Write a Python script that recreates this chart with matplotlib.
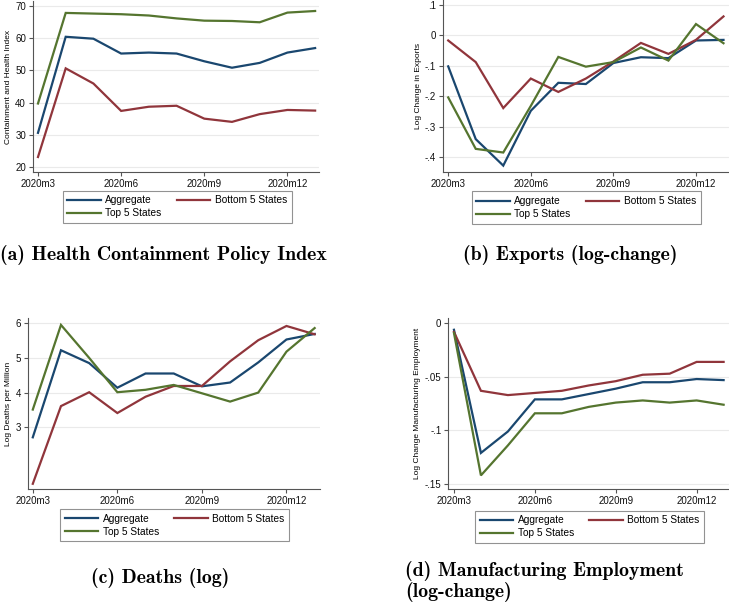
import numpy as np
import matplotlib
matplotlib.use('Agg')
import matplotlib.pyplot as plt

plt.rcParams['font.family'] = ['Liberation Sans', 'DejaVu Sans']

months = ['2020m3', '2020m4', '2020m5', '2020m6', '2020m7', '2020m8',
          '2020m9', '2020m10', '2020m11', '2020m12', '2021m1']
series_names = ['Aggregate', 'Bottom 5 States', 'Top 5 States']

# (a) containment and health index
health_agg = [30.6, 60.4, 59.8, 55.2, 55.5, 55.2, 52.8, 50.8, 52.3, 55.5, 56.9]
health_bot = [23.1, 50.6, 45.9, 37.4, 38.7, 39.0, 35.0, 34.0, 36.4, 37.7, 37.5]
health_top = [39.7, 67.8, 67.6, 67.4, 67.0, 66.1, 65.4, 65.3, 64.9, 67.9, 68.4]

# (b) log change in exports
exp_agg = [-0.102, -0.341, -0.428, -0.248, -0.156, -0.160, -0.091, -0.072, -0.075, -0.017, -0.015]
exp_bot = [-0.017, -0.088, -0.239, -0.142, -0.186, -0.142, -0.086, -0.025, -0.061, -0.015, 0.062]
exp_top = [-0.204, -0.373, -0.385, -0.232, -0.071, -0.103, -0.088, -0.040, -0.083, 0.037, -0.026]

# (c) log deaths per million
death_agg = [2.71, 5.22, 4.85, 4.14, 4.55, 4.55, 4.18, 4.29, 4.87, 5.53, 5.69]
death_bot = [1.37, 3.61, 4.01, 3.41, 3.88, 4.19, 4.19, 4.90, 5.51, 5.92, 5.68]
death_top = [3.51, 5.95, 5.00, 4.01, 4.08, 4.22, 3.98, 3.74, 4.00, 5.18, 5.86]

# (d) log change manufacturing employment
emp_agg = [-0.006, -0.121, -0.101, -0.071, -0.071, -0.066, -0.061, -0.055, -0.055, -0.052, -0.053]
emp_bot = [-0.008, -0.063, -0.067, -0.065, -0.063, -0.058, -0.054, -0.048, -0.047, -0.036, -0.036]
emp_top = [-0.009, -0.142, -0.114, -0.084, -0.084, -0.078, -0.074, -0.072, -0.074, -0.072, -0.076]

yticks_a = [20, 30, 40, 50, 60, 70]
ylabels_a = ['20', '30', '40', '50', '60', '70']
yticks_b = [-0.4, -0.3, -0.2, -0.1, 0, 0.1]
ylabels_b = ['-.4', '-.3', '-.2', '-.1', '0', '.1']
yticks_c = [3, 4, 5, 6]
ylabels_c = ['3', '4', '5', '6']
yticks_d = [-0.15, -0.1, -0.05, 0]
ylabels_d = ['-.15', '-.1', '-.05', '0']

colors = ['#1a476f', '#90353b', '#55752f']

W, H = 729, 603
fig = plt.figure(figsize=(W / 100, H / 100), dpi=100)
fig.patch.set_facecolor('white')

x = np.arange(len(months))


def make_panel(box, xlim, ylim, ys, yticks, ylabels, ylab, labx, leg_pos):
    l, r, t, b = box
    ax = fig.add_axes([l / W, 1 - b / H, (r - l) / W, (b - t) / H])
    lines = []
    for vals, c in zip(ys, colors):
        ln, = ax.plot(x, vals, color=c, lw=1.6, solid_joinstyle='miter')
        lines.append(ln)
    ax.set_xlim(*xlim)
    ax.set_ylim(*ylim)
    ax.set_xticks(x[::3])
    ax.set_xticklabels(months[::3], fontsize=7)
    ax.set_yticks(yticks)
    ax.set_yticklabels(ylabels, fontsize=7)
    ax.grid(axis='y', color='#eaeaea', lw=0.8)
    ax.set_axisbelow(True)
    for s in ['top', 'right']:
        ax.spines[s].set_visible(False)
    for s in ['left', 'bottom']:
        ax.spines[s].set_color('#555555')
        ax.spines[s].set_linewidth(0.8)
    ax.tick_params(length=3, width=0.8, color='#555555', pad=2, labelcolor='#111111')
    ax.set_ylabel(ylab, fontsize=6)
    ax.yaxis.set_label_coords(labx, 0.5)
    # legend order so that ncol=2 gives Aggregate | Bottom / Top
    order = [0, 2, 1]
    leg = fig.legend([lines[i] for i in order], [series_names[i] for i in order],
                     ncol=2, loc='upper left',
                     bbox_to_anchor=(leg_pos[0] / W, 1 - leg_pos[1] / H),
                     bbox_transform=fig.transFigure, borderaxespad=0,
                     fontsize=7.3, handlelength=3.3, handletextpad=0.45,
                     columnspacing=1.5, labelspacing=0.3, borderpad=0.45,
                     fancybox=False, frameon=True)
    leg.get_frame().set_edgecolor('#777777')
    leg.get_frame().set_linewidth(0.8)
    return ax


make_panel((33, 319, 1, 172), (-0.18, 10.14), (18.45, 71.5),
           [health_agg, health_bot, health_top], yticks_a, ylabels_a,
           'Containment and Health Index', -0.074, (62.7, 190.5))
make_panel((442.7, 729, 0, 172), (-0.2, 10.2), (-0.449, 0.116),
           [exp_agg, exp_bot, exp_top], yticks_b, ylabels_b,
           'Log Change in Exports', -0.073, (471.7, 191.5))
make_panel((28, 320, 318, 489), (-0.17, 10.19), (1.22, 6.15),
           [death_agg, death_bot, death_top], yticks_c, ylabels_c,
           'Log Deaths per Million', -0.056, (60, 509.3))
make_panel((448.3, 729, 318, 489), (-0.21, 10.2), (-0.1547, 0.005),
           [emp_agg, emp_bot, emp_top], yticks_d, ylabels_d,
           'Log Change Manufacturing Employment', -0.097, (475, 510.5))

cap = dict(family=['cmb10', 'DejaVu Serif'], fontsize=14.3, color='black')
fig.text(163 / W, 1 - 255 / H, '(a) Health Containment Policy Index', ha='center', va='center', **cap)
fig.text(570 / W, 1 - 255 / H, '(b) Exports (log-change)', ha='center', va='center', **cap)
fig.text(160 / W, 1 - 578 / H, '(c) Deaths (log)', ha='center', va='center', **cap)
fig.text(405 / W, 1 - 571 / H, '(d) Manufacturing Employment', ha='left', va='center', **cap)
fig.text(405 / W, 1 - 592 / H, '(log-change)', ha='left', va='center', **cap)

fig.savefig('out.png', dpi=100, facecolor='white')
